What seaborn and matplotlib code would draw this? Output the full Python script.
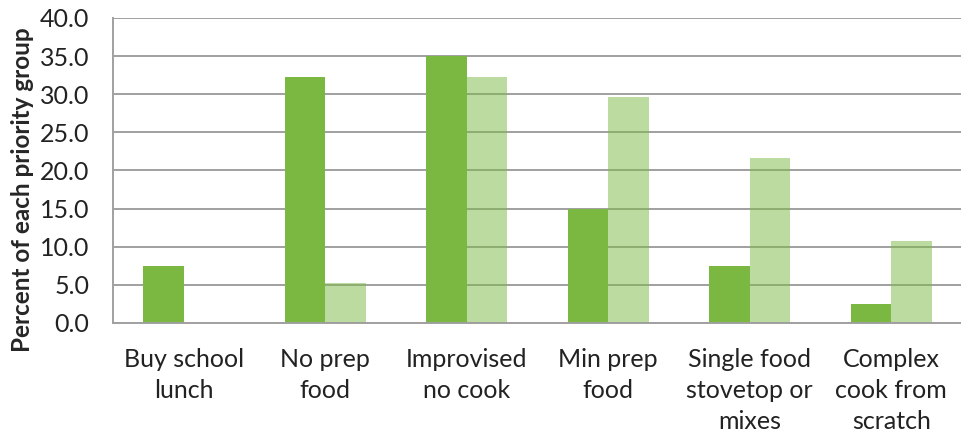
import seaborn as sns
import matplotlib.pyplot as plt
import pandas as pd

sns.set_style("white")
plt.rcParams["font.family"] = ["Lato", "DejaVu Sans"]

categories = ["Buy school\nlunch", "No prep\nfood", "Improvised\nno cook",
              "Min prep\nfood", "Single food\nstovetop or\nmixes", "Complex\ncook from\nscratch"]
series_names = ["Group A", "Group B"]
group_a = [7.5, 32.3, 35.0, 15.0, 7.5, 2.5]
group_b = [0.0, 5.3, 32.3, 29.7, 21.6, 10.8]

df = pd.DataFrame({
    "Category": categories * 2,
    "Series": [series_names[0]] * 6 + [series_names[1]] * 6,
    "Value": group_a + group_b,
})

green = "#7ab842"
grid_c = "#a0a0a0"

fig = plt.figure(figsize=(9.62, 4.34), dpi=100)
ax = fig.add_axes([113 / 962, 111 / 434, 849 / 962, 305 / 434])

sns.barplot(data=df, x="Category", y="Value", hue="Series",
            palette=[green, green], width=0.575, saturation=1,
            linewidth=0, legend=False, ax=ax)
for bar in ax.containers[1]:
    bar.set_alpha(0.5)

ax.set_axisbelow(True)
ax.set_ylim(0, 40)
ax.set_yticks(range(0, 41, 5))
ax.set_yticklabels([f"{v:.1f}" for v in range(0, 41, 5)], fontsize=18, color="#222222")
ax.yaxis.grid(True, color=grid_c, linewidth=1.4)
ax.tick_params(axis="y", length=9, width=1.4, color=grid_c, pad=8)

ax.set_xlim(-0.5, 5.45)
ax.set_xticks(range(6))
ax.set_xticklabels(categories, fontsize=18, color="#222222", linespacing=1.43)
ax.set_xticks([i - 0.5 for i in range(7)], minor=True)
ax.tick_params(axis="x", which="major", length=0, pad=18)
ax.tick_params(axis="x", which="minor", length=8, width=1.4, color=grid_c, direction="out")

for s in ["top", "right"]:
    ax.spines[s].set_visible(False)
for s in ["left", "bottom"]:
    ax.spines[s].set_color(grid_c)
    ax.spines[s].set_linewidth(1.4)

ax.set_xlabel("")
ax.set_ylabel("Percent of each priority group", fontsize=17.5, fontweight="bold")
ax.yaxis.set_label_coords(-0.093, 0.436)

fig.savefig("out.png", dpi=100)
plt.close()
